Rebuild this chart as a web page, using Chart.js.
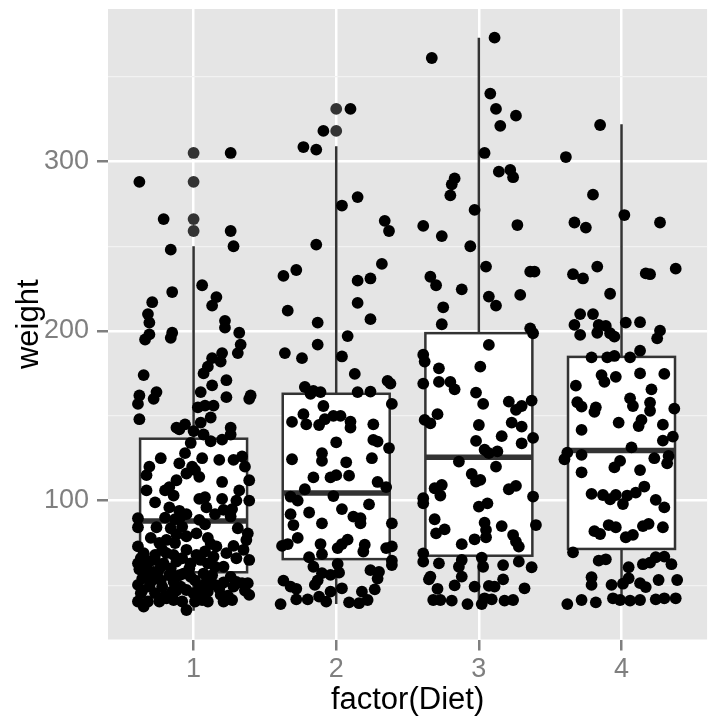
<!DOCTYPE html>
<html>
<head>
<meta charset="utf-8">
<script src="https://cdn.jsdelivr.net/npm/chart.js@4/dist/chart.umd.min.js"></script>
<style>
  html, body { margin: 0; padding: 0; background: #fff; overflow: hidden; }
  #wrap { width: 713px; height: 719px; }
</style>
</head>
<body>
<div id="wrap"><canvas id="dietChart" width="713" height="719"></canvas></div>
<script>
// ChickWeight: weight by diet, boxplot + jittered points
const diets = ['1', '2', '3', '4'];
const boxQ1 = [57.75, 65.5, 67.5, 71.5];
const boxMedian = [88, 104.5, 125.5, 129.5];
const boxQ3 = [136.5, 163, 198.75, 184.75];
const whiskerLow = [35, 39, 39, 39];
const whiskerHigh = [250, 309, 373, 322];
const outliers = [[259, 266, 288, 305], [318, 331], [], []];
const yTicks = [100, 200, 300];
const yMinorTicks = [50, 150, 250, 350];

// [jitter offset from diet position, weight]
const diet1Points = [
  [0.26, 305], [-0.38, 288], [-0.21, 266], [0.26, 259], [0.28, 250], [-0.16, 248], [0.06, 227], [-0.15, 223],
  [-0.29, 217], [0.16, 220], [0.13, 215], [-0.32, 210], [-0.31, 205], [0.22, 206], [0.22, 202], [0.32, 199],
  [-0.15, 199], [-0.16, 196], [-0.31, 198], [-0.34, 195], [0.33, 192], [0.31, 187], [0.2, 187], [0.13, 184],
  [0.19, 182], [0.1, 179], [0.07, 175], [-0.35, 174], [0.23, 171], [0.13, 168], [-0.26, 164], [-0.38, 162],
  [-0.28, 160], [-0.39, 157], [0.05, 164], [0.23, 161], [0.4, 162], [0.39, 160], [0.03, 155], [0.08, 156],
  [0.14, 156], [0.12, 149], [0.05, 146], [-0.38, 148], [-0.06, 145], [-0.12, 143], [0.26, 143],
  [-0.1, 142], [0, 141], [0.07, 139], [0.12, 135], [0.2, 136], [0.26, 139], [-0.02, 134], [-0.06, 128],
  [-0.23, 125], [-0.31, 120], [-0.33, 115], [-0.1, 122], [-0.01, 120], [0.06, 125], [0.18, 124], [0.28, 124],
  [0.34, 126], [0.36, 120], [0.39, 112], [0.2, 111], [0.04, 114], [0.01, 118], [-0.05, 116], [-0.12, 112],
  [-0.17, 108], [-0.2, 106], [-0.33, 106], [-0.14, 103], [0.04, 101], [0.08, 102], [0.2, 101], [0.32, 106],
  [0.3, 100], [0.39, 100], [-0.27, 99], [-0.17, 96], [0.09, 96], [0.21, 94.5], [0.27, 95], [0.26, 90.6],
  [-0.09, 90.6], [-0.05, 92], [-0.39, 89.6], [0.04, 88.6], [-0.13, 89], [-0.39, 84.3], [-0.26, 84.3], [-0.16, 83.7],
  [-0.08, 84.7], [0.31, 83.7], [-0.05, 79], [0.02, 80.7], [0.38, 80.7], [0.37, 76.8], [-0.24, 75], [-0.19, 76.8],
  [-0.13, 75], [0.12, 74.5], [0.28, 73.3], [-0.39, 73], [0.23, 69], [0.35, 71], [0.02, 68], [0.08, 70],
  [-0.35, 69], [-0.27, 68], [-0.19, 69], [0.39, 65], [-0.39, 63], [-0.31, 64], [-0.21, 63], [-0.12, 64],
  [0.1, 63], [0.15, 61], [0.21, 61], [-0.38, 59.5], [-0.28, 58], [-0.17, 56], [-0.07, 57], [-0.02, 55],
  [0.07, 57], [0.26, 55], [-0.36, 54], [-0.23, 53], [-0.14, 52], [0.01, 53], [0.09, 52], [0.21, 51.7],
  [-0.39, 50.3], [-0.31, 49.3], [-0.22, 49.3], [-0.09, 49.3], [0.04, 49.3], [0.15, 50.3], [0.34, 51.3], [0.38, 51.3],
  [-0.37, 45.4], [-0.27, 45.4], [-0.15, 46.4], [-0.05, 47.3], [0, 45.4], [0.1, 46.4], [0.19, 44.4], [0.28, 49.3],
  [0.39, 44.4], [-0.39, 40.5], [-0.32, 40.5], [-0.24, 40.5], [-0.14, 41.4], [-0.08, 40.5], [0.01, 40.5], [0.06, 41.4],
  [0.1, 40.5], [0.21, 40.5], [0.27, 41.4], [-0.05, 35.5], [-0.19, 42.4], [-0.35, 37.5], [-0.28, 55], [-0.23, 61],
  [-0.34, 57], [-0.02, 63], [0.05, 65], [0.16, 73], [0.14, 67], [-0.14, 68],
  [-0.36, 47], [-0.3, 52], [-0.25, 58], [-0.33, 62], [-0.27, 65], [-0.2, 44], [-0.12, 47], [-0.16, 60],
  [-0.08, 66], [-0.03, 60], [-0.1, 56], [0.04, 44], [0.13, 56], [0.18, 48], [0.24, 44], [0.3, 52],
  [0.36, 47], [-0.37, 66], [-0.22, 71], [-0.05, 71], [0.1, 78], [0.3, 66], [-0.3, 78], [-0.12, 80],
  [-0.2, 90], [-0.1, 94], [0.08, 86], [0.15, 92]
];

const diet2Points = [
  [0.1, 331], [-0.09, 318], [-0.23, 308.5], [-0.14, 307], [0.15, 279], [0.04, 274], [0.34, 265], [0.37, 259],
  [-0.14, 251], [-0.28, 236], [-0.37, 232.5], [0.32, 239.6], [0.15, 229.7], [0.24, 231], [0.15, 216.6], [-0.34, 212],
  [0.24, 207], [-0.13, 205], [0.08, 197], [-0.13, 192], [-0.36, 187], [-0.24, 184], [0.04, 185], [0.13, 174.7],
  [0.36, 170.6], [0.38, 169], [-0.22, 167], [-0.16, 164.7], [-0.11, 164], [0.15, 164], [0.24, 164.3],
  [-0.18, 163], [0.39, 157], [-0.09, 155.8], [-0.23, 151], [-0.31, 146.4], [-0.21, 145], [-0.12, 144.6], [-0.08, 148],
  [-0.02, 150], [0.03, 150], [0.1, 146.6], [0.1, 143], [0.26, 145], [0.26, 135.8], [0.29, 134.8], [0.37, 131],
  [0, 134.4], [-0.31, 124.4], [-0.1, 128], [-0.1, 123.4], [0.07, 122.6], [0.25, 125], [-0.16, 113.7], [-0.04, 113.7],
  [0, 115], [0.09, 114.7], [0.29, 111], [0.35, 108], [-0.22, 106.7], [-0.32, 102.3], [-0.27, 100], [-0.02, 102.7],
  [0.23, 97.8], [0.04, 95], [-0.32, 92], [-0.19, 93], [0.12, 90.6], [0.17, 89.6], [0.17, 86.6], [-0.3, 85.6],
  [-0.1, 86.6], [0.39, 86.6], [-0.27, 78], [-0.34, 74.4], [-0.38, 73.3], [-0.11, 74.4], [0.08, 77], [0.04, 74.4],
  [0.01, 72], [0.2, 74], [0.19, 70], [0.35, 72], [0.39, 73], [-0.1, 68.4], [-0.19, 66.6], [0.39, 64.6],
  [0.39, 62], [-0.16, 61], [0.01, 62.6], [-0.1, 57.2], [-0.04, 56.2], [0.02, 57.5], [0.24, 59], [0.3, 58],
  [0.29, 54], [-0.37, 52.8], [-0.32, 49.3], [-0.13, 53], [-0.15, 50.3], [-0.28, 48], [0.04, 48.3], [-0.04, 46.3],
  [0.27, 47.7], [0.18, 46.3], [-0.12, 43.4], [-0.07, 40.4], [-0.28, 41.8], [-0.2, 41.8], [-0.39, 39], [0.09, 40],
  [0.16, 39.5], [0.22, 41.4]
];

const diet3Points = [
  [0.11, 373], [-0.33, 361], [0.08, 340], [0.12, 331], [0.26, 327], [0.15, 321], [0.04, 305], [0.14, 294],
  [0.22, 295], [0.24, 290.7], [-0.17, 290], [-0.19, 286.5], [-0.2, 280], [-0.03, 271.4], [-0.39, 262], [-0.26, 256],
  [0.27, 262.5], [-0.06, 250], [0.05, 238], [-0.34, 232], [-0.3, 227], [-0.12, 224.6], [0.36, 235], [0.39, 235],
  [0.07, 220.3], [0.12, 215], [0.29, 221.3], [-0.25, 214], [-0.26, 204], [0.36, 201.6], [0.38, 198.7],
  [0.07, 191.8], [-0.39, 186], [-0.38, 182], [-0.28, 178], [0.01, 179], [-0.39, 169], [-0.28, 170], [-0.2, 170],
  [-0.17, 165.6], [-0.02, 163.7], [0.03, 157], [0.21, 158.4], [0.26, 153.5], [0.3, 155.8], [0.37, 159], [-0.29, 151],
  [-0.38, 147.6], [-0.34, 145.6], [0, 144.6], [0.23, 146], [0.3, 143.6], [0.16, 138], [0.38, 137], [0.3, 133.8],
  [-0.02, 135.2], [0.04, 130], [0.07, 128], [0.13, 129], [-0.14, 123], [0.12, 120], [-0.05, 115.7], [-0.02, 111.2],
  [0.01, 112.2], [-0.31, 107.3], [-0.26, 109.2], [-0.27, 103], [0.21, 106.7], [0.26, 108.7], [-0.39, 101.4], [-0.39, 98.4],
  [0.38, 102.4], [0, 96.5], [0.06, 98.4], [-0.31, 89], [0.04, 87], [-0.24, 83], [-0.3, 80.7], [0.05, 82.7],
  [0.16, 85], [0.4, 85.6], [0.24, 79.7], [0.26, 75.8], [0.28, 72.9], [-0.03, 77.2], [0.05, 78.4], [-0.12, 74.3],
  [-0.39, 68.9], [-0.39, 64], [-0.28, 63], [-0.12, 65], [-0.14, 61], [0.02, 66.4], [0.03, 61], [0.17, 62],
  [0.28, 64], [0.37, 60.7], [-0.34, 55.2], [-0.35, 53.6], [-0.12, 55.2], [0.17, 53.6], [-0.17, 50], [-0.03, 49.3],
  [0.07, 49.7], [0.11, 49.3], [0.32, 48.3], [-0.29, 48], [-0.32, 41.4], [-0.27, 41.4], [-0.19, 41], [-0.08, 39],
  [0.02, 39], [0.04, 42.4], [0.09, 41.8], [0.18, 41], [0.24, 41.4]
];

const diet4Points = [
  [-0.15, 321.5], [-0.39, 302.6], [-0.2, 280.4], [0.02, 268.4], [-0.33, 264], [-0.25, 261], [0.27, 264], [-0.17, 238],
  [-0.34, 233.5], [-0.27, 231], [0.17, 234], [0.2, 233.5], [0.38, 236.8], [-0.08, 222], [-0.29, 210], [-0.2, 210],
  [-0.33, 203.6], [-0.16, 203.6], [-0.11, 203], [0.03, 205], [0.13, 205.2], [-0.29, 197.7], [-0.17, 199], [-0.08, 198.7],
  [-0.05, 196.7], [0.27, 200.2], [0.25, 195.7], [0.13, 188.4], [-0.21, 184.5], [-0.1, 184.5], [-0.05, 185.3], [0.06, 184.5],
  [-0.14, 174], [-0.12, 170], [-0.04, 173], [0.13, 175], [0.3, 174.7], [-0.32, 167.8], [0.21, 165.6], [-0.31, 158],
  [-0.28, 155.4], [-0.18, 155], [-0.19, 152.3], [0.06, 160.3], [0.08, 155.8], [0.2, 157.8], [0.2, 153], [0.37, 154.2],
  [-0.02, 146], [0.14, 147.6], [0.12, 144], [0.29, 144.8], [-0.28, 141.7], [0.29, 135.4], [0.36, 137.7], [0.07, 131.4],
  [-0.38, 128.3], [-0.4, 124.4], [-0.28, 127], [0.23, 125], [0.33, 126.3], [0.32, 122], [-0.01, 123.4], [-0.05, 119.6],
  [0.13, 118], [-0.28, 116.7], [0.16, 108.3], [0.1, 104.7], [-0.21, 104], [-0.13, 103.3], [-0.08, 100.8], [-0.04, 103.3],
  [0.04, 103], [0.01, 98], [0.24, 100.4], [0.3, 96], [-0.19, 82], [-0.15, 80.3], [-0.09, 85.6], [-0.04, 84.3],
  [0.03, 78.4], [0.08, 79.8], [0.15, 85], [0.19, 86.3], [0.29, 84.3], [-0.34, 69.5], [-0.16, 64.6], [-0.11, 65.4],
  [0.05, 60.7], [0.15, 62.5], [0.2, 63.4], [0.24, 66.6], [0.3, 67], [0.35, 62.5], [-0.21, 54.8], [-0.21, 50.3],
  [-0.07, 50.3], [0.01, 51], [0.05, 54.2], [0.13, 51.3], [0.17, 49], [0.26, 53.2], [0.39, 53.2], [-0.38, 39],
  [-0.28, 41.4], [-0.18, 40], [-0.06, 42.4], [-0.01, 41.4], [0.06, 41], [0.13, 41.4], [0.24, 41.8], [0.3, 42.4],
  [0.38, 42.4]
];

const allPoints = [diet1Points, diet2Points, diet3Points, diet4Points];
const BOX_HALF = 0.375;
const GREY_TEXT = '#7f7f7f';
const FONT = "'Liberation Sans', Arial, sans-serif";

const jitterData = [];
allPoints.forEach(function (pts, i) {
    pts.forEach(function (p) { jitterData.push({ x: i + 1 + p[0], y: p[1] }); });
});
const outlierData = [];
outliers.forEach(function (vals, i) {
    vals.forEach(function (v) { outlierData.push({ x: i + 1, y: v }); });
});

// grey panel behind everything
const panelBg = {
    id: 'panelBg',
    beforeDraw(chart) {
        const a = chart.chartArea;
        const ctx = chart.ctx;
        ctx.save();
        ctx.fillStyle = '#e5e5e5';
        ctx.fillRect(a.left, a.top, a.right - a.left, a.bottom - a.top);
        ctx.restore();
    }
};

// boxes, whiskers and medians
const boxes = {
    id: 'boxes',
    beforeDatasetsDraw(chart) {
        const ctx = chart.ctx;
        const x = chart.scales.x, y = chart.scales.y;
        ctx.save();
        ctx.strokeStyle = '#333333';
        diets.forEach(function (d, i) {
            const cx = x.getPixelForValue(i + 1);
            const l = x.getPixelForValue(i + 1 - BOX_HALF);
            const r = x.getPixelForValue(i + 1 + BOX_HALF);
            const q1 = y.getPixelForValue(boxQ1[i]);
            const q3 = y.getPixelForValue(boxQ3[i]);
            const md = y.getPixelForValue(boxMedian[i]);
            ctx.lineWidth = 2.5;
            ctx.beginPath();
            ctx.moveTo(cx, y.getPixelForValue(whiskerHigh[i]));
            ctx.lineTo(cx, q3);
            ctx.moveTo(cx, q1);
            ctx.lineTo(cx, y.getPixelForValue(whiskerLow[i]));
            ctx.stroke();
            ctx.fillStyle = '#ffffff';
            ctx.fillRect(l, q3, r - l, q1 - q3);
            ctx.strokeRect(l, q3, r - l, q1 - q3);
            ctx.lineWidth = 5.5;
            ctx.beginPath();
            ctx.moveTo(l, md);
            ctx.lineTo(r, md);
            ctx.stroke();
        });
        ctx.restore();
    }
};

const ctx = document.getElementById('dietChart').getContext('2d');
new Chart(ctx, {
    type: 'scatter',
    data: {
        datasets: [{
            label: 'weight',
            data: jitterData,
            backgroundColor: '#000000',
            borderWidth: 0,
            pointRadius: 5.9
        }, {
            label: 'outliers',
            data: outlierData,
            backgroundColor: '#333333',
            borderWidth: 0,
            pointRadius: 5.9
        }]
    },
    options: {
        responsive: false,
        animation: false,
        events: [],
        layout: { padding: { top: 9, left: 0, right: 0, bottom: 0 } },
        plugins: {
            legend: { display: false },
            tooltip: { enabled: false }
        },
        scales: {
            x: {
                type: 'linear',
                min: 0.4,
                max: 4.6,
                afterFit: function (scale) {
                    scale.height = 79.5;
                    scale.paddingLeft = 0;
                    scale.paddingRight = 0;
                },
                afterBuildTicks: function (scale) {
                    scale.ticks = diets.map(function (d, i) { return { value: i + 1 }; });
                },
                border: { display: false },
                grid: {
                    color: '#ffffff',
                    lineWidth: 2.5,
                    tickColor: GREY_TEXT,
                    tickWidth: 2.5,
                    tickLength: 11
                },
                ticks: {
                    color: GREY_TEXT,
                    font: { family: FONT, size: 27 },
                    padding: 3,
                    maxRotation: 0,
                    callback: function (v) { return diets[Math.round(v) - 1]; }
                },
                title: {
                    display: true,
                    text: 'factor(Diet)',
                    color: '#000000',
                    font: { family: FONT, size: 31 },
                    padding: { top: 0, bottom: 0 }
                }
            },
            y: {
                min: 18.1,
                max: 389.9,
                afterFit: function (scale) {
                    scale.width = 108;
                    scale.paddingTop = 0;
                    scale.paddingBottom = 0;
                },
                afterBuildTicks: function (scale) {
                    scale.ticks = yMinorTicks.concat(yTicks).sort(function (a, b) { return a - b; })
                        .map(function (v) { return { value: v }; });
                },
                border: { display: false },
                grid: {
                    color: function (c) { return yTicks.includes(c.tick.value) ? '#ffffff' : '#f2f2f2'; },
                    lineWidth: function (c) { return yTicks.includes(c.tick.value) ? 2.5 : 1.2; },
                    tickColor: function (c) { return yTicks.includes(c.tick.value) ? GREY_TEXT : 'rgba(0,0,0,0)'; },
                    tickWidth: 2.5,
                    tickLength: 11
                },
                ticks: {
                    color: GREY_TEXT,
                    font: { family: FONT, size: 27 },
                    padding: 8,
                    callback: function (v) { return yTicks.includes(v) ? String(v) : ''; }
                },
                title: {
                    display: true,
                    text: 'weight',
                    color: '#000000',
                    font: { family: FONT, size: 31 },
                    padding: { top: 11, bottom: 0 }
                }
            }
        }
    },
    plugins: [panelBg, boxes]
});
</script>
</body>
</html>
